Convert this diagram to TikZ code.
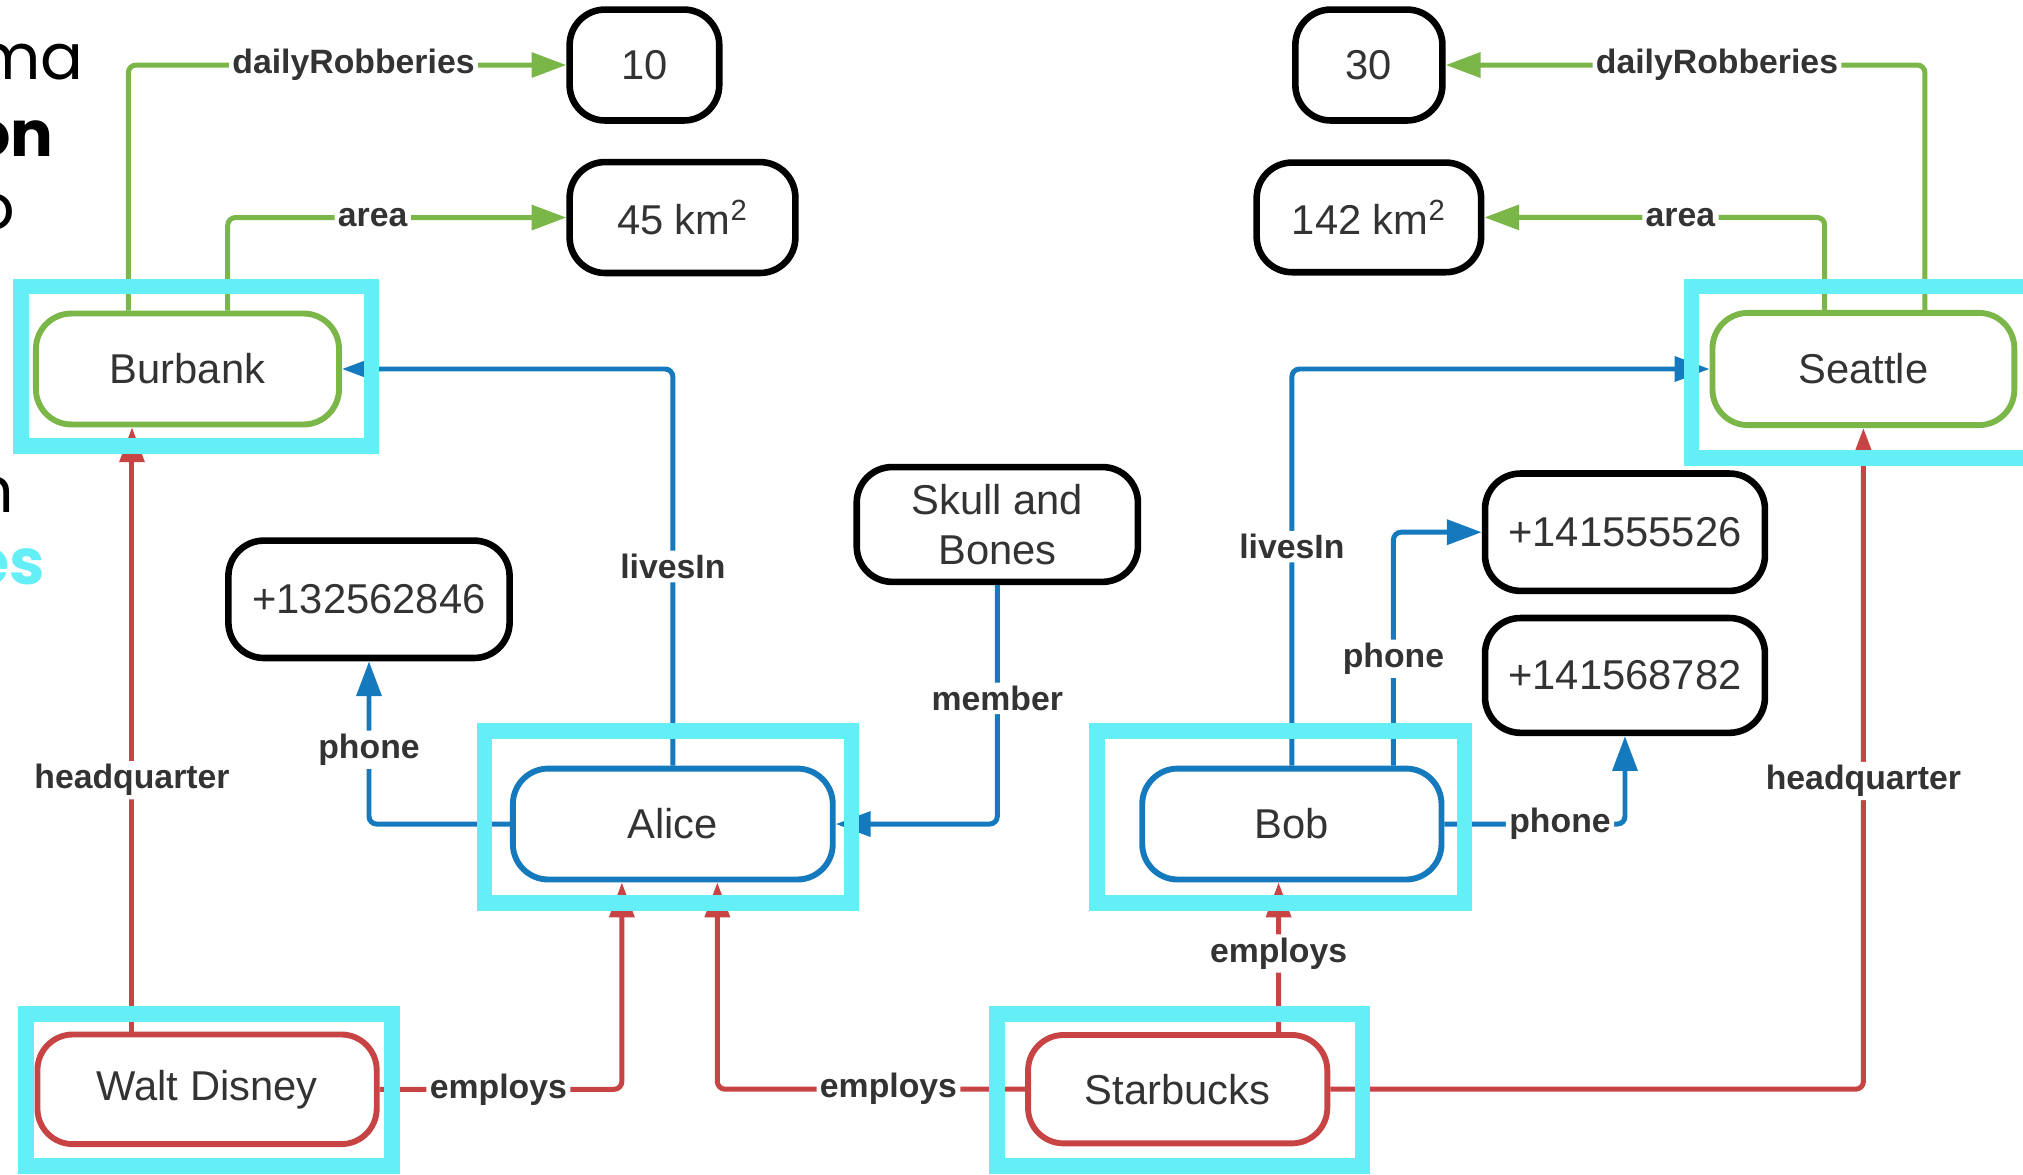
\documentclass[tikz,border=0pt]{standalone}
\usepackage{fontspec}
\setmainfont{Liberation Sans}
\newfontfamily\handfont{Poppins}
\usetikzlibrary{arrows.meta,calc}
\definecolor{cgreen}{HTML}{7AB648}
\definecolor{cblue}{HTML}{1479BD}
\definecolor{cred}{HTML}{C84444}
\definecolor{ccyan}{HTML}{64EFF7}
\definecolor{ctxt}{HTML}{333333}
\tikzset{
  box/.style={draw, rounded corners=0.55cm, line width=2.6pt, text=ctxt,
    font=\fontsize{18.4}{22}\selectfont, align=center, inner sep=0pt},
  blackbox/.style={box, draw=black, line width=2.9pt},
  greenbox/.style={box, draw=cgreen},
  bluebox/.style={box, draw=cblue},
  redbox/.style={box, draw=cred},
  conn/.style={line width=2.2pt, rounded corners=0.12cm},
  tip/.style={-{Triangle[length=0.54cm,width=0.38cm]}},
  gline/.style={conn, draw=cgreen, tip},
  bline/.style={conn, draw=cblue, tip},
  rline/.style={conn, draw=cred, tip},
  lbl/.style={fill=white, text=ctxt, font=\bfseries\fontsize{14.9}{17}\selectfont, inner sep=1.5pt},
  hl/.style={draw=ccyan, line width=0.244cm},
  hand/.style={font=\handfont\fontsize{28}{30}\selectfont, inner sep=0pt, anchor=base east}
}
\begin{document}
\begin{tikzpicture}[x=0.02cm,y=-0.02cm]
\useasboundingbox (0,0) rectangle (1568,910);
\clip (0,0) rectangle (1568,910);

% left-edge text fragments
\node[hand] (f1) at (65,62) {ma};
\node[hand, font=\handfont\bfseries\fontsize{28}{30}\selectfont] (f2) at (42,121) {on};
\node[hand] (f3) at (12,178) {o};
\node[hand] (f4) at (11,397) {n};
\node[hand, text=ccyan, font=\handfont\bfseries\fontsize{28}{30}\selectfont] (f5) at (35,453) {es};

% value boxes
\node[blackbox, minimum width=2.32cm, minimum height=1.72cm] (n10) at (499.5,50.4) {10};
\node[blackbox, minimum width=3.50cm, minimum height=1.72cm] (n45) at (529,168.6) {45 km\textsuperscript{2}};
\node[blackbox, minimum width=2.28cm, minimum height=1.72cm] (n30) at (1061,50.4) {30};
\node[blackbox, minimum width=3.48cm, minimum height=1.70cm] (n142) at (1061,168.5) {142 km\textsuperscript{2}};
\node[blackbox, minimum width=4.36cm, minimum height=1.82cm] (ph1) at (286,464.5) {+132562846};
\node[blackbox, minimum width=4.36cm, minimum height=1.78cm] (skull) at (773,406.5) {Skull and\\Bones};
\node[blackbox, minimum width=4.34cm, minimum height=1.82cm] (ph2) at (1259.5,412.5) {+141555526};
\node[blackbox, minimum width=4.34cm, minimum height=1.78cm] (ph3) at (1259.5,523.5) {+141568782};

% entity boxes
\node[greenbox, minimum width=4.70cm, minimum height=1.72cm] (Burbank) at (145.3,286) {Burbank};
\node[greenbox, minimum width=4.68cm, minimum height=1.74cm] (Seattle) at (1444.3,286) {Seattle};
\node[bluebox, minimum width=4.96cm, minimum height=1.72cm] (Alice) at (521.5,638.7) {Alice};
\node[bluebox, minimum width=4.64cm, minimum height=1.72cm] (Bob) at (1001.3,638.7) {Bob};
\node[redbox, minimum width=5.26cm, minimum height=1.70cm] (Walt) at (160.5,844.3) {Walt Disney};
\node[redbox, minimum width=4.64cm, minimum height=1.68cm] (Starbucks) at (912.8,844.2) {Starbucks};

% green connectors
\draw[gline] ($(Burbank.north)+(-45.8,0)$) |- (n10.west) node[lbl,pos=0.757] {dailyRobberies};
\draw[gline] ($(Burbank.north)+(31.2,0)$) |- (n45.west) node[lbl,pos=0.714] {area};
\draw[gline] ($(Seattle.north)+(47.7,0)$) |- (n30.east) node[lbl,pos=0.717] {dailyRobberies};
\draw[gline] ($(Seattle.north)+(-30,0)$) |- (n142.east) node[lbl,pos=0.712] {area};

% blue connectors
\draw[bline] (Alice.north) |- (Burbank.east) node[lbl,pos=0.251] {livesIn};
\draw[bline] (Bob.north) |- (Seattle.west) node[lbl,pos=0.276] {livesIn};
\draw[bline] (Alice.west) -| (ph1.south) node[lbl,pos=0.728] {phone};
\draw[bline] (skull.south) |- (Alice.east) node[lbl,pos=0.237] {member};
\draw[bline] ($(Bob.north)+(78.7,0)$) |- (ph2.west) node[lbl,pos=0.229] {phone};
\draw[bline] (Bob.east) -| (ph3.south) node[lbl,pos=0.32] {phone};

% red connectors
\draw[rline] ($(Walt.north)+(-58.2,0)$) -- ($(Burbank.south)+(-43,0)$) node[lbl,pos=0.416] {headquarter};
\draw[rline] (Walt.east) -| ($(Alice.south)+(-39.5,0)$) node[lbl,pos=0.245] {employs};
\draw[rline] (Starbucks.west) -| ($(Alice.south)+(34.5,0)$) node[lbl,pos=0.222] {employs};
\draw[rline] ($(Starbucks.north)+(78.2,0)$) -- ($(Bob.south)+(-10.3,0)$) node[lbl,pos=0.525] {employs};
\draw[rline] (Starbucks.east) -| (Seattle.south) node[lbl,pos=0.733] {headquarter};

% cyan highlights
\draw[hl] (16,222) rectangle (288,345.5);
\draw[hl] (1311,222) rectangle (1580,355);
\draw[hl] (375.6,566.7) rectangle (660,699.7);
\draw[hl] (850.5,566.7) rectangle (1135,699.7);
\draw[hl] (20,786) rectangle (304,903.5);
\draw[hl] (773,786) rectangle (1056,903.5);
\end{tikzpicture}
\end{document}
